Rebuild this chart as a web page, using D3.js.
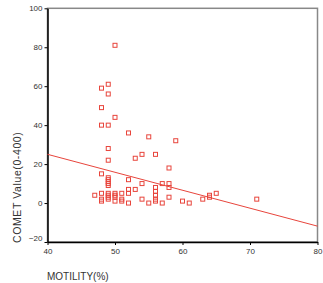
<!DOCTYPE html>
<html>
<head>
    <meta charset="utf-8">
    <style>
        body { margin: 0; background: #fff; }
        svg { display: block; font-family: "Liberation Sans", Arial, sans-serif; }
        .axis text { font-size: 8px; fill: #333; }
        .axis .domain { stroke: #000; stroke-width: 1.5px; }
        .axis .tick line { stroke: #000; }
    </style>
</head>
<body>
    <svg width="323" height="283"></svg>

<script src="https://d3js.org/d3.v7.min.js"></script>
<script>
    // motility (%) and comet value
    let motility = [47,
        48, 48, 48, 48, 48, 48, 48,
        49, 49, 49, 49, 49, 49, 49, 49, 49, 49, 49, 49, 49, 49,
        50, 50, 50, 50, 50, 50,
        51, 51, 51,
        52, 52, 52, 52, 52,
        53, 53,
        54, 54, 54,
        55, 55,
        56, 56, 56, 56, 56, 56,
        57, 57,
        58, 58, 58, 58,
        59, 60, 61, 63, 64, 64, 65, 71]
    let comet = [4,
        59, 49, 40, 15, 5, 2, 1,
        61, 56, 40, 28, 22, 13, 12, 11, 10, 9, 5, 4, 3, 2,
        81, 44, 5, 4, 3, 1,
        5, 2, 1,
        36, 12, 7, 5, 0,
        23, 7,
        25, 10, 2,
        34, 0,
        25, 8, 6, 4, 2, 1,
        10, 0,
        18, 10, 8, 3,
        32, 1, 0, 2, 3, 4, 5, 2]

    let xTicks = [40, 50, 60, 70, 80]
    let yTicks = [-20, 0, 20, 40, 60, 80, 100]

    // fit line shown on the chart
    let fitIntercept = 61.9
    let fitSlope = -0.922

    let red = "#e8453c"

    let svg = d3.select("svg")

    let x = d3.scaleLinear()
        .domain([40, 80])
        .range([47.5, 317.5])

    let y = d3.scaleLinear()
        .domain([-20, 100])
        .range([242, 8.3])

    // frame (top & right are grey)
    svg.append("rect")
        .attr("x", x(40))
        .attr("y", y(100))
        .attr("width", x(80) - x(40))
        .attr("height", y(-20) - y(100))
        .style("fill", "none")
        .style("stroke", "#888")
        .style("stroke-width", "1.5px")

    let xAxis = svg.append("g")
        .attr("class", "x axis")
        .attr("transform", `translate(0,${y(-20)})`)
        .call(d3.axisBottom(x).tickValues(xTicks).tickSize(3).tickPadding(3).tickSizeOuter(0))

    let yAxis = svg.append("g")
        .attr("class", "y axis")
        .attr("transform", `translate(${x(40)},0)`)
        .call(d3.axisLeft(y).tickValues(yTicks).tickSize(3).tickPadding(2).tickSizeOuter(0))

    // bottom label sits a bit higher like the original
    yAxis.selectAll(".tick text")
        .filter(d => d == -20)
        .attr("dy", "-0.2em")

    // fit line
    svg.append("line")
        .attr("x1", x(40))
        .attr("x2", x(80))
        .attr("y1", y(fitIntercept + fitSlope * 40))
        .attr("y2", y(fitIntercept + fitSlope * 80))
        .style("stroke", red)
        .style("stroke-width", "1px")

    let pts = motility.map((m, i) => ({ m: m, c: comet[i] }))

    svg.append("g")
        .selectAll("rect")
        .data(pts)
        .join("rect")
        .attr("x", d => x(d.m) - 2)
        .attr("y", d => y(d.c) - 2)
        .attr("width", 4)
        .attr("height", 4)
        .style("fill", "none")
        .style("stroke", red)
        .style("stroke-width", "1px")

    svg.append("text")
        .attr("x", 47)
        .attr("y", 280)
        .attr("font-size", "10px")
        .attr("fill", "#333")
        .text("MOTILITY(%)")

    svg.append("text")
        .attr("transform", "translate(21,243) rotate(-90)")
        .attr("font-size", "10.5px")
        .attr("letter-spacing", "0.6px")
        .attr("fill", "#333")
        .text("COMET Value(0-400)")
</script>
</body>
</html>
